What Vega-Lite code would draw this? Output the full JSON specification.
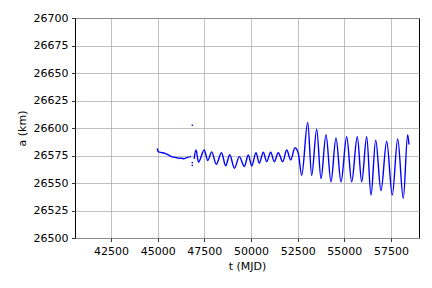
{
  "$schema": "https://vega.github.io/schema/vega-lite/v6.json",
  "width": 344,
  "height": 220,
  "autosize": {"type": "none"},
  "padding": {"left": 75, "top": 18, "right": 13, "bottom": 50},
  "background": "white",
  "config": {
    "view": {"stroke": "black", "strokeWidth": 1},
    "axis": {
      "domain": false,
      "tickColor": "black",
      "tickSize": 3.5,
      "tickWidth": 0.8,
      "labelFont": "DejaVu Sans",
      "labelFontSize": 11,
      "labelColor": "black",
      "labelPadding": 3.5,
      "titleFont": "DejaVu Sans",
      "titleFontSize": 11,
      "titleFontWeight": "normal",
      "titleColor": "black",
      "gridColor": "#b0b0b0",
      "gridWidth": 0.8,
      "gridOpacity": 1
    }
  },
  "datasets": {
    "trace": [
      {"t": 44980, "a": 26581.5, "seg": 1},
      {"t": 45010, "a": 26579, "seg": 1},
      {"t": 45086, "a": 26578, "seg": 1},
      {"t": 45392, "a": 26577, "seg": 1},
      {"t": 45570, "a": 26575.5, "seg": 1},
      {"t": 45750, "a": 26574, "seg": 1},
      {"t": 46019, "a": 26573, "seg": 1},
      {"t": 46150, "a": 26572.5, "seg": 1},
      {"t": 46287, "a": 26572.5, "seg": 1},
      {"t": 46400, "a": 26572, "seg": 1},
      {"t": 46555, "a": 26573, "seg": 1},
      {"t": 46694, "a": 26573.5, "seg": 1},
      {"t": 46950, "a": 26572, "seg": 2},
      {"t": 47053, "a": 26580, "seg": 2},
      {"t": 47187, "a": 26569, "seg": 2},
      {"t": 47492, "a": 26580, "seg": 2},
      {"t": 47685, "a": 26570.5, "seg": 2},
      {"t": 47894, "a": 26578.3, "seg": 2},
      {"t": 48140, "a": 26567, "seg": 2},
      {"t": 48419, "a": 26577.5, "seg": 2},
      {"t": 48644, "a": 26565.7, "seg": 2},
      {"t": 48858, "a": 26575.7, "seg": 2},
      {"t": 49115, "a": 26563.4, "seg": 2},
      {"t": 49373, "a": 26574, "seg": 2},
      {"t": 49640, "a": 26565, "seg": 2},
      {"t": 49855, "a": 26575.5, "seg": 2},
      {"t": 50037, "a": 26565.5, "seg": 2},
      {"t": 50267, "a": 26577.5, "seg": 2},
      {"t": 50444, "a": 26568, "seg": 2},
      {"t": 50658, "a": 26578, "seg": 2},
      {"t": 50840, "a": 26569.4, "seg": 2},
      {"t": 51055, "a": 26578, "seg": 2},
      {"t": 51247, "a": 26569.4, "seg": 2},
      {"t": 51462, "a": 26577.5, "seg": 2},
      {"t": 51698, "a": 26569.4, "seg": 2},
      {"t": 51912, "a": 26580, "seg": 2},
      {"t": 52126, "a": 26571, "seg": 2},
      {"t": 52356, "a": 26582, "seg": 2},
      {"t": 52533, "a": 26577, "seg": 2},
      {"t": 52715, "a": 26557, "seg": 2},
      {"t": 53037, "a": 26605, "seg": 2},
      {"t": 53251, "a": 26557, "seg": 2},
      {"t": 53519, "a": 26599, "seg": 2},
      {"t": 53749, "a": 26554, "seg": 2},
      {"t": 54017, "a": 26594, "seg": 2},
      {"t": 54285, "a": 26551, "seg": 2},
      {"t": 54553, "a": 26591, "seg": 2},
      {"t": 54821, "a": 26551, "seg": 2},
      {"t": 55126, "a": 26592, "seg": 2},
      {"t": 55394, "a": 26551, "seg": 2},
      {"t": 55694, "a": 26592, "seg": 2},
      {"t": 55930, "a": 26551, "seg": 2},
      {"t": 56197, "a": 26592, "seg": 2},
      {"t": 56428, "a": 26539, "seg": 2},
      {"t": 56680, "a": 26589, "seg": 2},
      {"t": 56963, "a": 26543, "seg": 2},
      {"t": 57269, "a": 26588, "seg": 2},
      {"t": 57569, "a": 26539, "seg": 2},
      {"t": 57858, "a": 26590, "seg": 2},
      {"t": 58158, "a": 26536, "seg": 2},
      {"t": 58394, "a": 26594, "seg": 2},
      {"t": 58463, "a": 26585, "seg": 2}
    ],
    "extra": [
      {"t": 46855, "a": 26602.5},
      {"t": 46855, "a": 26566},
      {"t": 46855, "a": 26568.5},
      {"t": 46750, "a": 26574}
    ]
  },
  "encoding": {
    "x": {
      "field": "t",
      "type": "quantitative",
      "scale": {"domain": [40570, 59000], "nice": false, "zero": false},
      "axis": {
        "title": "t (MJD)",
        "values": [42500, 45000, 47500, 50000, 52500, 55000, 57500],
        "format": "d",
        "labelFlush": false,
        "titlePadding": 4
      }
    },
    "y": {
      "field": "a",
      "type": "quantitative",
      "scale": {"domain": [26500, 26700], "nice": false, "zero": false},
      "axis": {
        "title": "a (km)",
        "values": [26500, 26525, 26550, 26575, 26600, 26625, 26650, 26675, 26700],
        "format": "d",
        "labelFlush": false,
        "titlePadding": 6
      }
    }
  },
  "layer": [
    {
      "data": {"name": "trace"},
      "mark": {"type": "line", "color": "#0000ff", "strokeWidth": 1.4, "interpolate": "monotone", "clip": true},
      "encoding": {"detail": {"field": "seg", "type": "nominal"}}
    },
    {
      "data": {"name": "extra"},
      "mark": {"type": "square", "color": "#0000ff", "size": 2, "opacity": 1, "clip": true}
    }
  ]
}
